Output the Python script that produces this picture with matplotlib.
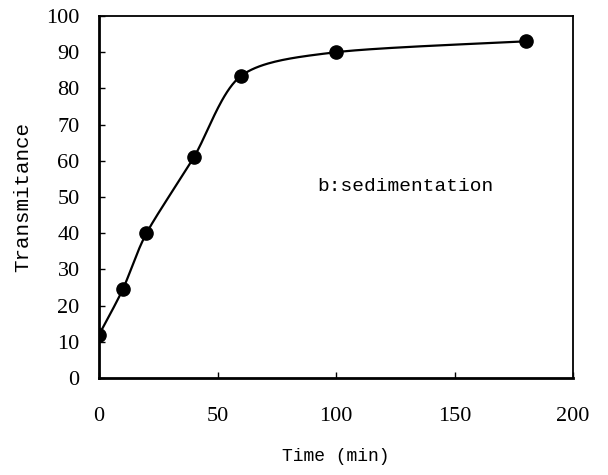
import numpy as np
import matplotlib
matplotlib.use('Agg')
from matplotlib import pyplot as plt

# Измеренные значения пропускания.
time_min = [0, 10, 20, 40, 60, 100, 180]
transmitance = [12, 24.5, 40, 61, 83.5, 90, 93]
x_ticks = [0, 50, 100, 150, 200]
y_ticks = [0, 10, 20, 30, 40, 50, 60, 70, 80, 90, 100]

num_font = 'Liberation Serif'
txt_font = 'Liberation Mono'

fig = plt.figure(figsize=(6.08, 4.75), dpi=100)
ax = fig.add_axes([0.163, 0.2042, 0.7794, 0.7621])
ax.set_xlim(0, 200)
ax.set_ylim(0, 100)


def smooth_curve(xs, ys, sx, sy, k=0.14, n=40):
    # Сглаживание кривыми Безье, в масштабе экрана.
    px = np.array(xs, float) * sx
    py = np.array(ys, float) * sy
    pts = np.column_stack([px, py])
    out = []
    for i in range(len(pts) - 1):
        p0 = pts[max(i - 1, 0)]
        p1 = pts[i]
        p2 = pts[i + 1]
        p3 = pts[min(i + 2, len(pts) - 1)]
        c1 = p1 + (p2 - p0) * k
        c2 = p2 - (p3 - p1) * k
        t = np.linspace(0, 1, n)[:, None]
        seg = ((1 - t) ** 3) * p1 + 3 * ((1 - t) ** 2) * t * c1 \
            + 3 * (1 - t) * t ** 2 * c2 + t ** 3 * p2
        out.append(seg)
    curve = np.vstack(out)
    return curve[:, 0] / sx, curve[:, 1] / sy


cx, cy = smooth_curve(time_min, transmitance, 474 / 200, 362 / 100)
ax.plot(cx, cy, color='black', lw=1.6, zorder=2)
ax.plot(time_min, transmitance, 'o', color='black', ms=9.5, zorder=3)

ax.text(92, 52.8, 'b:sedimentation', fontsize=14, family=txt_font,
        va='center', ha='left')

ax.set_xticks(x_ticks)
ax.set_yticks(y_ticks)
ax.tick_params(direction='in', length=4, width=1, labelsize=16)
ax.tick_params(axis='x', pad=21)
ax.tick_params(axis='y', pad=14)
for lab in ax.get_xticklabels() + ax.get_yticklabels():
    lab.set_family(num_font)

ax.set_xlabel('Time (min)', fontsize=13, family=txt_font, labelpad=16)
ax.set_ylabel('Transmitance', fontsize=15, family=txt_font, labelpad=10)

for side in ['left', 'bottom']:
    ax.spines[side].set_linewidth(2)
for side in ['top', 'right']:
    ax.spines[side].set_linewidth(1.3)

fig.savefig('out.png', dpi=100)
